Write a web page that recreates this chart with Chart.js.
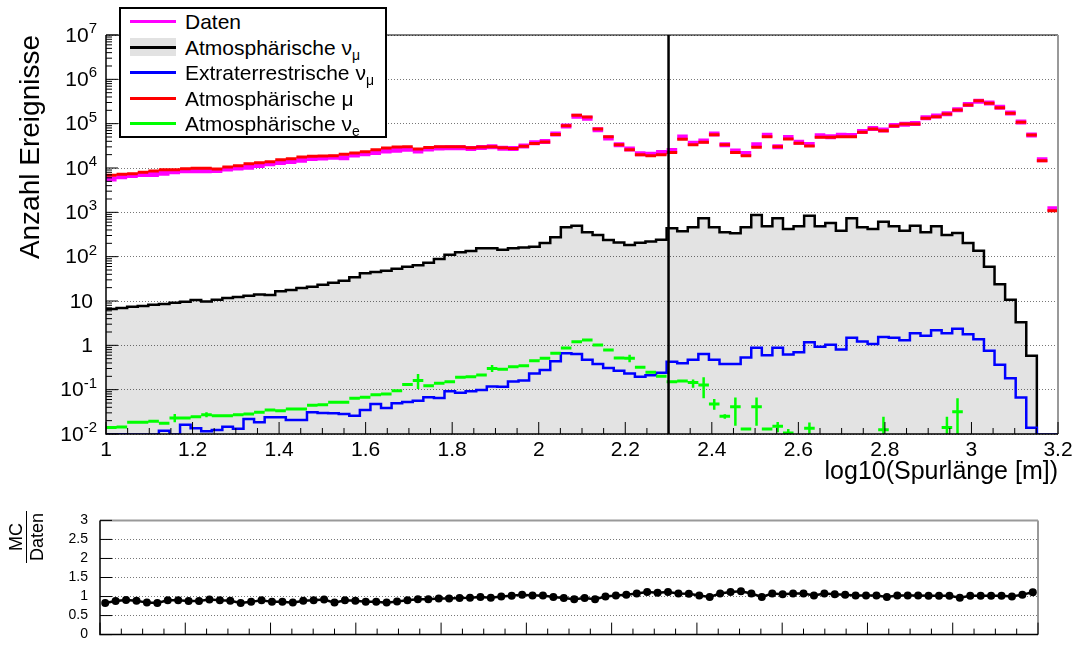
<!DOCTYPE html>
<html>
<head>
<meta charset="utf-8">
<script src="https://cdn.jsdelivr.net/npm/chart.js@4.4.1/dist/chart.umd.min.js"></script>
<style>
  body { margin: 0; background: #fff; font-family: "Liberation Sans", Arial, sans-serif; color: #000; }
  #wrap { position: relative; width: 1084px; height: 655px; overflow: hidden; }
  #main { position: absolute; left: 0; top: 0; }
  #ratio { position: absolute; left: 0; top: 500px; }
  #legend { position: absolute; left: 119px; top: 7px; width: 268px; height: 131px; box-sizing: border-box;
            background: #fff; border: 2px solid #000; font-size: 21px; }
  #legend .row { position: relative; height: 25.5px; line-height: 25.5px; padding-left: 64px; white-space: nowrap; }
  #legend .sw { position: absolute; left: 9px; top: 11px; width: 46px; height: 0; border-top: 3px solid; }
  #legend .box { position: absolute; left: 9px; top: 3px; width: 46px; height: 18px; background: #e2e2e2; }
  #legend .box::after { content: ""; position: absolute; left: 0; right: 0; top: 8px; border-top: 3px solid #000; }
  #legend sub { font-size: 14px; vertical-align: -5px; line-height: 0; }
  #ratioTitle { position: absolute; left: 1px; top: 516px; width: 52px; height: 42px; transform: rotate(-90deg);
                font-size: 18px; line-height: 20px; text-align: center; }
  #ratioTitle .num { border-bottom: 1.5px solid #000; }
</style>
</head>
<body>
<div id="wrap">
  <canvas id="main" width="1084" height="490"></canvas>
  <canvas id="ratio" width="1084" height="155"></canvas>
  <div id="legend">
    <div class="row"><span class="sw" style="border-color:#ff00ff"></span>Daten</div>
    <div class="row"><span class="box"></span>Atmosphärische ν<sub>μ</sub></div>
    <div class="row"><span class="sw" style="border-color:#0000ff"></span>Extraterrestrische ν<sub>μ</sub></div>
    <div class="row"><span class="sw" style="border-color:#ff0000"></span>Atmosphärische μ</div>
    <div class="row"><span class="sw" style="border-color:#00ff00"></span>Atmosphärische ν<sub>e</sub></div>
  </div>
  <div id="ratioTitle"><div class="num">MC</div><div>Daten</div></div>
</div>
<script>
// binning of log10(track length)
const xMin = 1, xMax = 3.2, nBins = 90;
const cutAt = 2.3;
const yDecades = [-2, -1, 0, 1, 2, 3, 4, 5, 6, 7];
const ratioTicks = [0, 0.5, 1, 1.5, 2, 2.5, 3];

// events per bin
const daten = [
  5680, 6340, 6780, 7100, 7180, 7610, 8250, 8690, 8650, 8650,
  8730, 9450, 10060, 10380, 11350, 12510, 13240, 13930, 14870, 16290,
  16740, 17480, 17050, 19620, 20830, 22270, 24250, 25030, 26360, 24300,
  26970, 28180, 28790, 28790, 27360, 28910, 30000, 27940, 27500, 31420,
  37280, 39660, 58710, 88600, 147800, 132100, 72860, 47340, 33600, 26680,
  21000, 20520, 22400, 24750, 49730, 36290, 40550, 58200, 33260, 24300,
  21280, 33400, 54970, 30000, 48710, 38160, 33800, 53140, 50680, 54970,
  53950, 66990, 78180, 71590, 91260, 97220, 101100, 136000, 148300, 168300,
  207100, 269300, 320100, 293800, 234600, 174400, 109100, 55500, 15330, 1210
];
const atmMu = [
  6840, 7200, 7450, 7980, 8550, 9170, 9170, 9660, 9830, 9830,
  9490, 10500, 11300, 12500, 13200, 13900, 15400, 16200, 17700, 18300,
  18600, 19000, 20300, 21800, 23400, 25900, 28200, 29800, 30300, 27000,
  29000, 30300, 30300, 30300, 28500, 29800, 30300, 28800, 27500, 30800,
  35500, 38500, 57000, 89500, 154000, 142000, 75900, 50900, 33600, 25900,
  20000, 19000, 20000, 22500, 44400, 33600, 37900, 56500, 33600, 22500,
  19000, 29300, 50900, 30300, 45100, 36000, 31300, 49200, 49200, 50900,
  50900, 63800, 75900, 69500, 88600, 98200, 98200, 132000, 144000, 165000,
  203000, 264000, 330000, 288000, 230000, 171000, 107000, 55500, 14600, 1090
];
const atmNuMu = [
  6.05, 6.6, 6.96, 7.45, 7.7, 8.26, 8.55, 9.17, 9.66, 10.5,
  9.8, 10.7, 11.7, 12.3, 13.2, 14.1, 13.6, 16.5, 17.7, 19.6,
  21, 23.3, 25.9, 28.8, 34.2, 42, 45, 48.3, 53.7, 59.5,
  63.8, 73.3, 88.6, 111, 125, 135, 154, 154, 144, 154,
  160, 168, 203, 273, 459, 501, 354, 308, 238, 210,
  183, 205, 220, 240, 436, 372, 459, 733, 459, 354,
  336, 459, 871, 483, 733, 421, 483, 841, 483, 575,
  385, 733, 459, 421, 616, 483, 385, 501, 354, 483,
  308, 342, 203, 136, 59, 24, 10.7, 3.3, 0.58, 0.005
];
const astroNuMu = [
  0.0100, 0.0099, 0.0099, 0.0098, 0.0098, 0.0098, 0.0119, 0.0098, 0.0162, 0.0134,
  0.0115, 0.0123, 0.0146, 0.0132, 0.0218, 0.0183, 0.0238, 0.0238, 0.0207, 0.0207,
  0.0308, 0.0298, 0.0293, 0.0282, 0.0259, 0.0348, 0.0475, 0.0386, 0.0492, 0.0527,
  0.0565, 0.0671, 0.0649, 0.0917, 0.0855, 0.0917, 0.098, 0.118, 0.117, 0.152,
  0.16, 0.233, 0.278, 0.436, 0.66, 0.64, 0.47, 0.38, 0.308, 0.268,
  0.233, 0.196, 0.212, 0.24, 0.425, 0.395, 0.47, 0.64, 0.47, 0.38,
  0.38, 0.535, 0.88, 0.595, 0.88, 0.62, 0.695, 1.17, 0.925, 1.03,
  0.81, 1.49, 1.22, 1.07, 1.54, 1.48, 1.3, 1.87, 1.65, 2.18,
  1.87, 2.38, 1.77, 1.37, 0.75, 0.363, 0.18, 0.067, 0.0138, 0.0097
];
const atmNuE = [
  0.0141, 0.0143, 0.0183, 0.0183, 0.0193, 0.0174, 0.023, 0.023, 0.0246, 0.0273,
  0.0259, 0.0259, 0.0273, 0.0282, 0.0308, 0.0348, 0.0336, 0.0366, 0.0366, 0.0444,
  0.0459, 0.0518, 0.0518, 0.0638, 0.0671, 0.0771, 0.0798, 0.0949, 0.13, 0.16,
  0.123, 0.139, 0.151, 0.19, 0.196, 0.214, 0.3, 0.29, 0.33, 0.345,
  0.45, 0.509, 0.66, 0.87, 1.21, 1.32, 1.02, 0.785, 0.518, 0.509,
  0.319, 0.246, 0.2, 0.151, 0.157, 0.146, 0.127, 0.0475, 0.025, 0.0414,
  0.013, 0.0414, 0.013, 0.0149, 0.0105, null, 0.0134, null, null, null,
  null, null, null, 0.0125, null, null, null, null, null, 0.0141,
  0.0319, null, null, null, null, null, null, null, null, null
];
// visible error bars of the nu_e histogram
const nuEErrBins = [6, 9, 29, 36, 49, 55, 56, 57, 58, 59, 61, 63, 64, 66, 73, 79, 80];
const nuEErrLow  = [0.0183, 0.024, 0.1035, 0.25, 0.414, 0.11, 0.064, 0.0354, 0.022, 0.0154, 0.0154, 0.0109, 0.008, 0.0094, 0.005, 0.005, 0.005];
const nuEErrHigh = [0.0282, 0.031, 0.225, 0.36, 0.615, 0.17, 0.19, 0.0616, 0.028, 0.067, 0.067, 0.0187, 0.013, 0.0182, 0.0246, 0.0246, 0.0638];

const ratio = [
  0.83, 0.88, 0.91, 0.89, 0.84, 0.83, 0.90, 0.90, 0.88, 0.88,
  0.92, 0.90, 0.89, 0.83, 0.86, 0.90, 0.86, 0.86, 0.84, 0.89,
  0.90, 0.92, 0.84, 0.90, 0.89, 0.86, 0.86, 0.84, 0.87, 0.90,
  0.93, 0.93, 0.95, 0.95, 0.96, 0.97, 0.99, 0.97, 1.00, 1.02,
  1.05, 1.03, 1.03, 0.99, 0.96, 0.93, 0.96, 0.93, 1.00, 1.03,
  1.05, 1.08, 1.12, 1.10, 1.12, 1.08, 1.07, 1.03, 0.99, 1.08,
  1.12, 1.14, 1.08, 0.99, 1.08, 1.06, 1.08, 1.08, 1.03, 1.08,
  1.06, 1.05, 1.03, 1.03, 1.03, 0.99, 1.03, 1.03, 1.03, 1.02,
  1.02, 1.02, 0.97, 1.02, 1.02, 1.02, 1.02, 1.00, 1.05, 1.11
];

const binW = (xMax - xMin) / nBins;
const edges = Array.from({ length: nBins + 1 }, (_, k) => xMin + k * binW);
const centre = k => (edges[k] + edges[k + 1]) / 2;

// histogram outline: one point per left bin edge, drawn stepped
function stepPoints(vals) {
  const pts = vals.map((v, k) => ({ x: edges[k], y: v }));
  pts.push({ x: edges[nBins], y: vals[nBins - 1] });
  return pts;
}
// one horizontal dash per bin, gaps in between
function dashPoints(vals) {
  const pts = [];
  vals.forEach((v, k) => {
    if (v == null) return;
    pts.push({ x: edges[k], y: v }, { x: edges[k + 1], y: v }, { x: edges[k + 1], y: null });
  });
  return pts;
}
function errPoints(bins, lo, hi) {
  const pts = [];
  bins.forEach((k, i) => {
    pts.push({ x: centre(k), y: lo[i] }, { x: centre(k), y: hi[i] }, { x: centre(k), y: null });
  });
  return pts;
}

const FONT = '"Liberation Sans", Arial, sans-serif';
Chart.defaults.font.family = FONT;
Chart.defaults.color = '#000';

// ROOT style frame: ticks pointing into the pad, grey top/right edges
function rootFrame(cfg) {
  return {
    id: 'rootFrame',
    afterDraw(chart) {
      const { ctx, chartArea: a } = chart;
      const xs = chart.scales.x, ys = chart.scales.y;
      ctx.save();
      ctx.strokeStyle = cfg.topColor;
      ctx.lineWidth = cfg.topWidth;
      ctx.beginPath();
      ctx.moveTo(a.left, a.top); ctx.lineTo(a.right, a.top);
      ctx.stroke();
      ctx.strokeStyle = '#999';
      ctx.lineWidth = 2;
      ctx.beginPath();
      ctx.moveTo(a.right, a.top); ctx.lineTo(a.right, a.bottom);
      ctx.stroke();

      ctx.strokeStyle = '#000';
      ctx.lineWidth = 1.5;
      ctx.beginPath();
      ctx.moveTo(a.left, a.top); ctx.lineTo(a.left, a.bottom); ctx.lineTo(a.right, a.bottom);
      ctx.stroke();

      ctx.lineWidth = 1;
      ctx.beginPath();
      for (let i = 0; i <= 44; i++) {
        const px = xs.getPixelForValue(xMin + i * 0.05);
        ctx.moveTo(px, a.bottom);
        ctx.lineTo(px, a.bottom - (i % 4 === 0 ? 12 : 6));
      }
      cfg.yTicks.forEach(([v, major]) => {
        const py = ys.getPixelForValue(v);
        ctx.moveTo(a.left, py);
        ctx.lineTo(a.left + (major ? 12 : 6), py);
      });
      ctx.stroke();

      if (cfg.powerLabels) {
        ctx.fillStyle = '#000';
        ctx.textBaseline = 'middle';
        ctx.textAlign = 'right';
        yDecades.forEach(e => {
          const py = ys.getPixelForValue(10 ** e);
          ctx.font = '21px ' + FONT;
          if (e === 0 || e === 1) {
            ctx.fillText(e === 0 ? '1' : '10', 93, py + 1);
            return;
          }
          ctx.font = '15px ' + FONT;
          const s = String(e);
          const sw = ctx.measureText(s).width;
          ctx.fillText(s, 97, py - 6);
          ctx.font = '21px ' + FONT;
          ctx.fillText('10', 97 - sw, py + 1);
        });
      }
      ctx.restore();
    }
  };
}

const logTicks = [];
for (let e = -2; e < 7; e++) {
  for (let m = 1; m <= 9; m++) logTicks.push([m * 10 ** e, m === 1]);
}
logTicks.push([1e7, true]);

new Chart(document.getElementById('main'), {
  type: 'line',
  data: {
    datasets: [
      { label: 'Atmosphärische νμ', data: stepPoints(atmNuMu), stepped: 'after', borderColor: '#000',
        borderWidth: 2.5, fill: 'start', backgroundColor: 'rgba(0,0,0,0.11)', order: 10 },
      { label: 'Extraterrestrische νμ', data: stepPoints(astroNuMu), stepped: 'after', borderColor: '#0000ff',
        borderWidth: 2.5, order: 8 },
      { label: 'Atmosphärische νe', data: dashPoints(atmNuE), borderColor: '#00ff00', borderWidth: 3, order: 7 },
      { label: 'νe Fehler', data: errPoints(nuEErrBins, nuEErrLow, nuEErrHigh), borderColor: '#00ff00',
        borderWidth: 2.5, order: 7 },
      { label: 'Daten', data: dashPoints(daten), borderColor: '#ff00ff', borderWidth: 5, order: 6 },
      { label: 'Atmosphärische μ', data: dashPoints(atmMu), borderColor: '#ff0000', borderWidth: 3, order: 5 },
      { label: 'Schnitt', data: [{ x: cutAt, y: 1e-2 }, { x: cutAt, y: 1e7 }], borderColor: '#000',
        borderWidth: 2.5, order: 1 }
    ]
  },
  options: {
    responsive: false,
    animation: false,
    spanGaps: false,
    elements: { point: { radius: 0 }, line: { tension: 0, borderCapStyle: 'butt' } },
    layout: { padding: { top: 35, right: 26, left: 0, bottom: 0 } },
    plugins: { legend: { display: false }, tooltip: { enabled: false } },
    scales: {
      x: {
        type: 'linear', min: xMin, max: xMax,
        grid: { display: false }, border: { display: false },
        ticks: { stepSize: 0.2, padding: -4, maxRotation: 0, autoSkip: false, font: { size: 21 },
                 callback: v => String(+v.toFixed(1)) },
        title: { display: true, text: 'log10(Spurlänge [m])', align: 'end', font: { size: 25 },
                 padding: { top: 0, bottom: 3 } },
        afterFit: s => { s.height = 56; }
      },
      y: {
        type: 'logarithmic', min: 1e-2, max: 1e7,
        afterBuildTicks: s => { s.ticks = yDecades.map(e => ({ value: 10 ** e })); },
        ticks: { display: false },
        grid: { color: '#777', lineWidth: 1, drawTicks: false },
        border: { display: false, dash: [1, 2] },
        title: { display: true, text: 'Anzahl Ereignisse', align: 'end', font: { size: 28 },
                 padding: { top: 14, bottom: 0 } },
        afterFit: s => { s.width = 106; }
      }
    }
  },
  plugins: [rootFrame({ topColor: '#000', topWidth: 1, yTicks: logTicks, powerLabels: true })]
});

new Chart(document.getElementById('ratio'), {
  type: 'line',
  data: {
    datasets: [{
      label: 'MC/Daten', data: ratio.map((r, k) => ({ x: centre(k), y: r })),
      borderColor: '#000', borderWidth: 2.5, pointRadius: 4, pointBackgroundColor: '#000', pointBorderWidth: 0
    }]
  },
  options: {
    responsive: false,
    animation: false,
    layout: { padding: { top: 15, right: 46, left: 0, bottom: 0 } },
    plugins: { legend: { display: false }, tooltip: { enabled: false } },
    scales: {
      x: {
        type: 'linear', min: xMin, max: xMax,
        ticks: { display: false }, grid: { display: false }, border: { display: false },
        afterFit: s => { s.height = 5; }
      },
      y: {
        min: 0, max: 3,
        afterBuildTicks: s => { s.ticks = ratioTicks.map(v => ({ value: v })); },
        ticks: { padding: 12, font: { size: 14 }, callback: v => String(v) },
        grid: { color: '#777', lineWidth: 1, drawTicks: false },
        border: { display: false, dash: [1, 2] },
        afterFit: s => { s.width = 100; }
      }
    }
  },
  plugins: [rootFrame({ topColor: '#999', topWidth: 2, yTicks: ratioTicks.map(v => [v, true]), powerLabels: false })]
});
</script>
</body>
</html>
